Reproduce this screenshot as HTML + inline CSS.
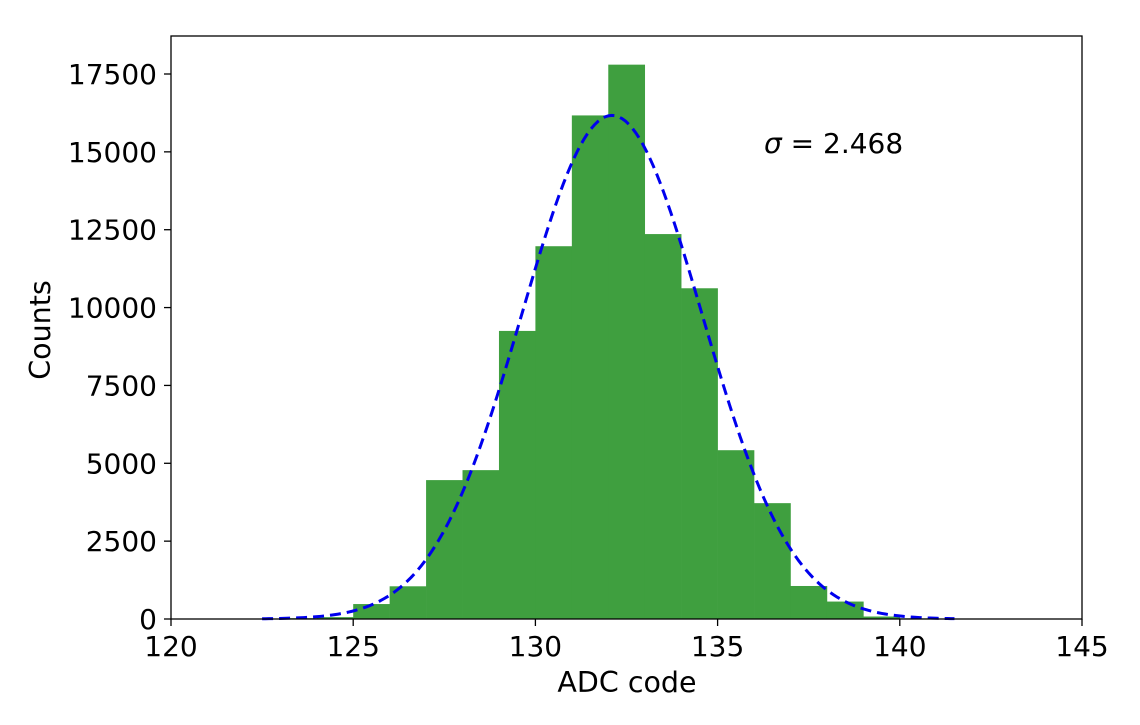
<!DOCTYPE html>
<html><head><meta charset="utf-8"><style>
body{margin:0;background:#fff;font-family:"Liberation Sans","DejaVu Sans",sans-serif}
svg text{font-family:"DejaVu Sans","Liberation Sans",sans-serif}
</style></head><body>
<svg id="chart" width="1140" height="720" xmlns="http://www.w3.org/2000/svg">
<g id="bars"></g>
<path id="fit" fill="none" stroke="#0000ee" stroke-width="3" stroke-dasharray="11,6"></path>
<rect x="171" y="36" width="911" height="583" fill="none" stroke="#000" stroke-width="1.3"/>
<g id="xt"></g>
<g id="yt"></g>
<text x="627" y="692" font-size="28.5" text-anchor="middle">ADC code</text>
<text transform="translate(50,330) rotate(-90)" font-size="28.5" text-anchor="middle">Counts</text>
<text x="764" y="153" font-size="28"><tspan font-style="italic">σ</tspan> = 2.468</text>
</svg>
<script>
const binStarts=[123,124,125,126,127,128,129,130,131,132,133,134,135,136,137,138,139,140];
const counts=[25,60,480,1050,4460,4780,9250,11970,16170,17800,12360,10620,5420,3720,1060,560,80,20];
const xTicks=[120,125,130,135,140,145];
const yTicks=[0,2500,5000,7500,10000,12500,15000,17500];
const fitMean=132.1, fitSigma=2.468, fitPeak=16170;
const X=v=>171+(v-120)*911/25;
const Y=v=>619-v*(545/17500);
const NS="http://www.w3.org/2000/svg";
const bars=document.getElementById('bars');
binStarts.forEach((b,i)=>{
 const r=document.createElementNS(NS,'rect');
 
 
 r.setAttribute('x',X(b));r.setAttribute('width',X(b+1)-X(b)+0.3);
 r.setAttribute('y',Y(counts[i]));r.setAttribute('height',Y(0)-Y(counts[i]));
 r.setAttribute('fill','#3f9f3f');bars.appendChild(r);
});
let d='';
for(let k=0;k<=200;k++){const x=122.5+k*19/200;const v=fitPeak*Math.exp(-((x-fitMean)**2)/(2*fitSigma**2));d+=(k?'L':'M')+X(x).toFixed(2)+','+Y(v).toFixed(2);}
document.getElementById('fit').setAttribute('d',d);
const xt=document.getElementById('xt');
xTicks.forEach(t=>{
 const l=document.createElementNS(NS,'line');
 
 
 l.setAttribute('x1',X(t));l.setAttribute('x2',X(t));l.setAttribute('y1',619);l.setAttribute('y2',626);l.setAttribute('stroke','#000');l.setAttribute('stroke-width','1.3');xt.appendChild(l);
 const s=document.createElementNS(NS,'text');
 
 
 s.setAttribute('x',X(t));s.setAttribute('y',656);s.setAttribute('font-size','28');s.setAttribute('text-anchor','middle');s.textContent=t;xt.appendChild(s);
});
const yt=document.getElementById('yt');
yTicks.forEach(t=>{
 const l=document.createElementNS(NS,'line');
 
 
 l.setAttribute('x1',164);l.setAttribute('x2',171);l.setAttribute('y1',Y(t));l.setAttribute('y2',Y(t));l.setAttribute('stroke','#000');l.setAttribute('stroke-width','1.3');yt.appendChild(l);
 const s=document.createElementNS(NS,'text');
 
 
 s.setAttribute('x',157);s.setAttribute('y',Y(t)+10);s.setAttribute('font-size','28');s.setAttribute('text-anchor','end');s.textContent=t;yt.appendChild(s);
});
</script>
</body></html>
